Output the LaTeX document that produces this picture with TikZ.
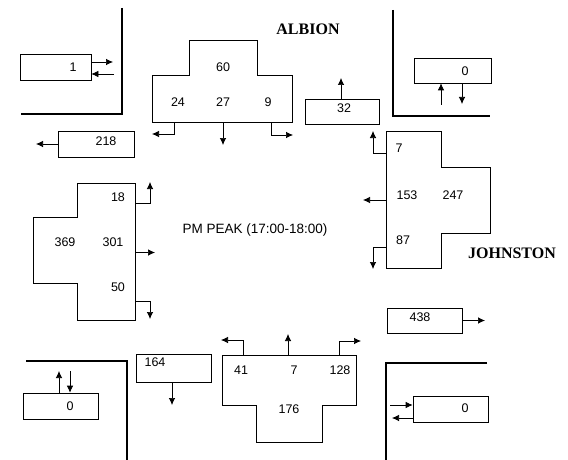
\documentclass[tikz,border=0pt]{standalone}
\usepackage{fontspec}
\setmainfont{Liberation Sans}
\newfontfamily\streetfont{Liberation Serif}
\usetikzlibrary{arrows.meta}

\begin{document}
\begin{tikzpicture}[x=1pt,y=-1pt,
		box/.style={draw,line width=0.7pt,inner sep=0pt},
		lane/.style={draw,line width=0.7pt},
		num/.style={font=\fontsize{12.5}{15}\selectfont},
		arr/.style={-{Latex[length=7pt,width=6.5pt]},line width=0.7pt},
		wall/.style={line width=2.4pt},
		street/.style={font=\streetfont\bfseries\fontsize{16}{18}\selectfont}]
		\useasboundingbox (0,0) rectangle (568,460);
		\draw[wall] (122,8) -- (122,114) -- (21,114);
		\draw[wall] (393,10) -- (393,116) -- (490,116);
		\draw[wall] (26,361) -- (127,361) -- (127,460);
		\draw[wall] (487,363) -- (386,363) -- (386,460);
		\foreach \nm/\cx/\cy/\w/\h/\tx/\ty/\val in {one/55.5/67/71/26/73/67/1, lsw/96/144/76/26/106/141/218, rne/342/111.5/74/25/344/108/32, zne/452.5/70.5/77/25/465/71/0, lse/173.5/368/75/28/155/362/164, znw/60.5/406/75/26/70/406/0, rsw/424.5/320.5/75/25/420/317/438, zse/450.5/409/75/26/465/408/0} {
			\node[box,minimum width=\w,minimum height=\h] (\nm) at (\cx,\cy) {};
			\node[num] (\nm-v) at (\tx,\ty) {\val};
		}
		\draw[arr] (one.east |- 0,62) -- (113,62);
		\draw[arr] (114,74) -- (one.east |- 0,74);
		\draw[arr] (lsw.west) -- (36,144);
		\draw[arr] (rne.north -| 341,0) -- (341,78);
		\draw[arr] (441,105) -- (zne.south -| 441,0);
		\draw[arr] (zne.south -| 462,0) -- (462,104);
		\draw[arr] (lse.south -| 172,0) -- (172,405);
		\draw[arr] (znw.north -| 59,0) -- (59,371);
		\draw[arr] (70,371) -- (znw.north -| 70,0);
		\draw[arr] (rsw.east) -- (485,320.5);
		\draw[arr] (390,405) -- (zse.west |- 0,405);
		\draw[arr] (zse.west |- 0,418) -- (392,418);
		\draw[lane] (189,40) -- (257,40) -- (257,75) -- (292,75) -- (292,122) -- (152,122) -- (152,75) -- (189,75) -- cycle;
		\node[num] (n-th) at (223,67) {60};
		\node[num] (n-lt) at (178,102) {24};
		\node[num] (n-md) at (223,102) {27};
		\node[num] (n-rt) at (268,102) {9};
		\draw[arr] (174,122) -- (174,134) -- (152,134);
		\draw[arr] (223,122) -- (223,145);
		\draw[arr] (271,122) -- (271,135) -- (293,135);
		\draw[lane] (386,131) -- (441,131) -- (441,167) -- (490,167) -- (490,233) -- (441,233) -- (441,268) -- (386,268) -- cycle;
		\node[num] (e-rt) at (399,148) {7};
		\node[num] (e-md) at (407,195) {153};
		\node[num] (e-th) at (453,195) {247};
		\node[num] (e-lt) at (403,240) {87};
		\draw[arr] (386,153) -- (373,153) -- (373,131);
		\draw[arr] (386,200) -- (363,200);
		\draw[arr] (386,247) -- (373,247) -- (373,269);
		\draw[lane] (77,183) -- (135,183) -- (135,320) -- (77,320) -- (77,283) -- (33,283) -- (33,217) -- (77,217) -- cycle;
		\node[num] (w-lt) at (118,197) {18};
		\node[num] (w-th) at (65,242) {369};
		\node[num] (w-md) at (113,242) {301};
		\node[num] (w-rt) at (118,287) {50};
		\draw[arr] (135,203) -- (150,203) -- (150,182);
		\draw[arr] (135,252.5) -- (155,252.5);
		\draw[arr] (135,301) -- (150,301) -- (150,319);
		\draw[lane] (222,355) -- (356,355) -- (356,405) -- (322,405) -- (322,442) -- (256,442) -- (256,405) -- (222,405) -- cycle;
		\node[num] (s-lt) at (241,370) {41};
		\node[num] (s-md) at (294,370) {7};
		\node[num] (s-rt) at (340,370) {128};
		\node[num] (s-th) at (289,409) {176};
		\draw[arr] (243,355) -- (243,340) -- (221,340);
		\draw[arr] (288,355) -- (288,334);
		\draw[arr] (339,355) -- (339,341) -- (361,341);
		\node[street] (albion) at (308,29) {ALBION};
		\node[street] (johnston) at (512,253) {JOHNSTON};
		\node[font=\fontsize{13.5}{16}\selectfont] (peak) at (255,230) {PM PEAK (17:00-18:00)};
	\end{tikzpicture}
\end{document}
